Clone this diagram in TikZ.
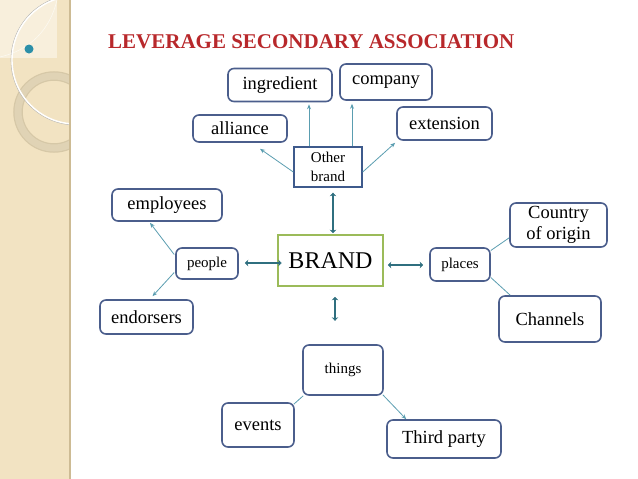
\documentclass[tikz,border=0pt]{standalone}
\usepackage{fontspec}
\setmainfont{Liberation Serif}
\usetikzlibrary{arrows.meta,calc}
\definecolor{panel}{HTML}{F2E3C2}
\definecolor{panellight}{HTML}{F8EFDC}
\definecolor{panelline}{HTML}{CDBB94}
\definecolor{ringc}{HTML}{E2D5B8}
\definecolor{ringedge}{HTML}{CBBD9C}
\definecolor{dotc}{HTML}{2C8FA8}
\definecolor{titlec}{HTML}{B8282B}
\definecolor{boxc}{HTML}{4B5E8C}
\definecolor{obc}{HTML}{3E5A8C}
\definecolor{brandc}{HTML}{9BBB59}
\definecolor{thinc}{HTML}{5A9DB0}
\definecolor{thickc}{HTML}{2F6F7F}
\begin{document}
\begin{tikzpicture}[x=1pt,y=-1pt,
  box/.style={draw=boxc, line width=1.6pt, rounded corners=6pt, fill=white, inner sep=0pt, align=center, font=\fontsize{18.5}{21}\selectfont},
  sbox/.style={box, font=\fontsize{15}{18}\selectfont},
  thinarr/.style={draw=thinc, line width=0.8pt, -{Stealth[length=5pt,width=4pt]}},
  thinln/.style={draw=thinc, line width=0.8pt},
  bigarr/.style={draw=thickc, line width=2.8pt, {Stealth[length=3.5pt,width=6.5pt]}-{Stealth[length=3.5pt,width=6.5pt]}}]
\useasboundingbox (0,0) rectangle (638,479);
% left panel
\fill[panel] (0,0) rectangle (70,479);
\fill[panellight] (0,0) rectangle (57,58);
\begin{scope}
\clip (0,0) rectangle (70,479);
\draw[white!60!panellight, line width=0.6pt] (0,57) .. controls (30,50) and (50,30) .. (57,0);
\draw[ringedge, line width=9.5pt, opacity=0.7] (54,112) circle (36);
\draw[ringc, line width=7pt, opacity=0.85] (54,112) circle (36);
\draw[gray!55, line width=0.6pt] (76,60) circle (65);
\draw[white, line width=1.4pt] (76,60) circle (64);
\end{scope}
\draw[panelline, line width=1.5pt] (70,0) -- (70,479);
\fill[dotc] (29,49) circle (4.5);
% title
\node[anchor=base west, text=titlec, font=\fontsize{21}{24}\selectfont\bfseries, inner sep=0pt] (title) at (108,48) {LEVERAGE SECONDARY ASSOCIATION};
% nodes
\node[box, minimum width=104, minimum height=33] (ing) at (280,85) {ingredient};
\node[box, minimum width=92, minimum height=36] (comp) at (386,82) {company};
\node[box, minimum width=94, minimum height=27] (all) at (240,128.5) {alliance};
\node[box, minimum width=95, minimum height=33] (ext) at (444.5,123.5) {extension};
\node[draw=obc, line width=1.4pt, fill=white, inner sep=0pt, align=center, font=\fontsize{15}{19}\selectfont, minimum width=68, minimum height=40] (ob) at (328,167) {Other\\brand};
\node[draw=brandc, line width=1.6pt, fill=white, inner sep=0pt, font=\fontsize{24}{28}\selectfont, minimum width=105, minimum height=51] (brand) at (330.5,260.5) {BRAND};
\node[sbox, minimum width=62, minimum height=31] (people) at (207,263.5) {people};
\node[box, minimum width=110, minimum height=32] (emp) at (167,205) {employees};
\node[box, minimum width=93, minimum height=34] (endo) at (146.5,317) {endorsers};
\node[sbox, minimum width=60, minimum height=33] (places) at (460,264.5) {places};
\node[box, minimum width=97, minimum height=44] (country) at (558.5,225) {Country\\of origin};
\node[box, minimum width=102, minimum height=46] (chan) at (550,319) {Channels};
\node[sbox, minimum width=80, minimum height=50] (things) at (343,370) {things};
\node[box, minimum width=72, minimum height=44] (events) at (258,425) {events};
\node[box, minimum width=114, minimum height=38] (third) at (444,439) {Third party};
% thin connectors
\draw[thinarr] ([shift={(0,5)}]ob.west) -- ([shift={(20,6)}]all.south);
\draw[thinarr] ([shift={(-19,0)}]ob.north) -- ([shift={(29,2)}]ing.south);
\draw[thinarr] ([shift={(24,0)}]ob.north) -- ([shift={(-34,3)}]comp.south);
\draw[thinarr] ([shift={(0,5)}]ob.east) -- ([shift={(-1,2)}]ext.south west);
\draw[thinarr] ([shift={(-1,-9)}]people.west) -- ([shift={(-17,1)}]emp.south);
\draw[thinarr] ([shift={(-1,9)}]people.west) -- ([shift={(6,-3)}]endo.north);
\draw[thinln] ([shift={(0,-14)}]places.east) -- ([shift={(0,-10)}]country.south west);
\draw[thinln] ([shift={(0,13)}]places.east) -- ([shift={(12,0)}]chan.north west);
\draw[thinln] ([shift={(1,0)}]things.south west) -- ([shift={(-1,2)}]events.north east);
\draw[thinarr] ([shift={(-1,-1)}]things.south east) -- ([shift={(20,0)}]third.north west);
% thick double arrows
\draw[bigarr] ([shift={(2.5,-1)}]brand.north) -- ([shift={(5,5)}]ob.south);
\draw[bigarr] ([shift={(6,-0.5)}]people.east) -- ([shift={(4.5,2.5)}]brand.west);
\draw[bigarr] ([shift={(4,4.5)}]brand.east) -- ([shift={(-6,0.5)}]places.west);
\coordinate (tA) at ([shift={(4.5,10)}]brand.south);
\coordinate (tB) at ([shift={(4.5,34)}]brand.south);
\draw[bigarr] (tA) -- (tB);
\end{tikzpicture}
\end{document}
